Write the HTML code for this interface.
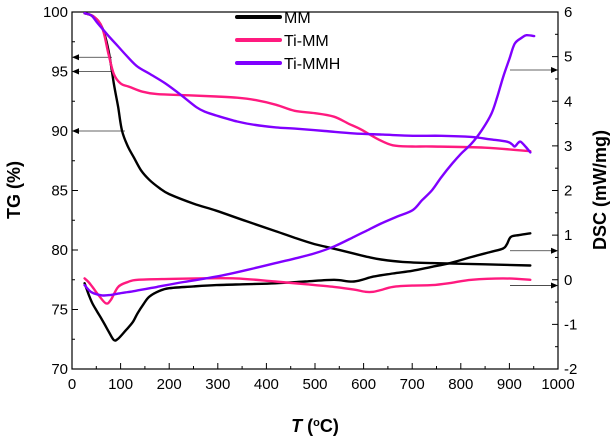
<!DOCTYPE html>
<html><head><meta charset="utf-8"><style>
body{margin:0;background:#fff}
svg{display:block;font-family:"Liberation Sans",Arial,sans-serif}
</style></head><body>
<svg id="chart" width="616" height="441"></svg>
<script>
const xTicks=[0,100,200,300,400,500,600,700,800,900,1000];
const tgTicks=[70,75,80,85,90,95,100];
const dscTicks=[-2,-1,0,1,2,3,4,5,6];
const seriesNames=["MM","Ti-MM","Ti-MMH"];
const mmT=[26,45,62,75,86,95,103,115,127,142,159,180,200,250,297,360,418,460,499,540,580,610,636,680,741,850,943];
const mmTG=[99.9,99.6,98.7,96.8,94,92,90,88.7,87.8,86.7,85.9,85.2,84.7,83.9,83.3,82.4,81.6,81,80.5,80.1,79.7,79.4,79.2,79,78.9,78.8,78.7];
const timmT=[26,45,62,75,86,100,119,145,175,240,297,340,378,420,458,500,539,570,596,630,660,700,741,850,943];
const timmTG=[99.9,99.6,98.7,96.5,94.8,94,93.7,93.3,93.1,93,92.9,92.8,92.6,92.2,91.7,91.5,91.2,90.6,90.1,89.3,88.8,88.7,88.7,88.6,88.3];
const timmhT=[26,40,54,75,95,115,135,160,192,225,256,275,297,340,378,420,458,520,580,640,701,760,822,860,895,905,911,918,923,933,943];
const timmhTG=[99.9,99.7,99,98,97.1,96.2,95.4,94.8,94,93,92,91.6,91.3,90.8,90.5,90.3,90.2,90,89.8,89.7,89.6,89.6,89.5,89.3,89.1,88.9,88.7,89,89.1,88.7,88.2];
const mmDT=[26,35,42,52,62,75,86,95,111,125,135,147,159,180,200,250,297,360,418,480,539,580,620,660,700,741,780,822,860,887,895,903,920,943];
const mmDSC=[-0.08,-0.35,-0.53,-0.72,-0.9,-1.15,-1.35,-1.32,-1.13,-0.95,-0.75,-0.55,-0.38,-0.25,-0.19,-0.15,-0.12,-0.1,-0.08,-0.04,0,-0.04,0.07,0.14,0.2,0.29,0.38,0.51,0.62,0.7,0.8,0.96,1.0,1.04];
const timmDT=[26,34,42,55,70,80,95,115,135,200,256,337,418,480,539,580,604,620,636,660,700,741,780,822,887,943];
const timmDSC=[0.03,-0.05,-0.16,-0.35,-0.53,-0.45,-0.16,-0.05,0,0.02,0.03,0.03,-0.04,-0.1,-0.16,-0.22,-0.27,-0.27,-0.23,-0.16,-0.13,-0.12,-0.07,0,0.03,0];
const timmhDT=[26,40,62,80,95,130,175,230,297,360,418,460,499,540,580,610,636,670,701,720,741,760,782,800,822,843,863,875,887,900,911,925,935,951];
const timmhDSC=[-0.12,-0.28,-0.35,-0.34,-0.31,-0.25,-0.16,-0.05,0.07,0.22,0.37,0.48,0.59,0.75,0.96,1.12,1.26,1.42,1.56,1.78,2.01,2.3,2.6,2.82,3.05,3.35,3.72,4.1,4.54,4.95,5.29,5.42,5.48,5.46];
const colors=["#000000","#ff1a7f","#8000ff"];

const L=72,R=558,T=12,B=369;
const xS=v=>L+(v-0)/1000*(R-L);
const yTG=v=>B-(v-70)/30*(B-T);
const yD=v=>B-(v+2)/8*(B-T);
const svg=document.getElementById('chart');
const NS='http://www.w3.org/2000/svg';
function mk(tag,attrs,parent){const e=document.createElementNS(NS,tag);for(const k in attrs)e.setAttribute(k,attrs[k]);(parent||svg).appendChild(e);return e;}

const frame=mk('rect',{x:L,y:T,width:R-L,height:B-T,fill:'none',stroke:'#000','stroke-width':1.2});



for(let v=0;v<=1000;v+=50){const x=xS(v);const maj=v%100===0;
 const t=mk('line',{x1:x,x2:x,y1:B,y2:B-(maj?6:3),stroke:'#000'});
 
 }
xTicks.forEach(v=>{const t=mk('text',{x:xS(v),y:B+20,'font-size':15,'text-anchor':'middle'});t.textContent=v;
 
 });
for(let v=70;v<=100;v+=2.5){const y=yTG(v);const maj=v%5===0;
 const t=mk('line',{x1:L,x2:L+(maj?6:3),y1:y,y2:y,stroke:'#000'});
 
 }
tgTicks.forEach(v=>{const t=mk('text',{x:L-4,y:yTG(v)+5,'font-size':15,'text-anchor':'end'});t.textContent=v;
 
 });
for(let v=-2;v<=6;v+=0.5){const y=yD(v);const maj=Number.isInteger(v);
 const t=mk('line',{x1:R,x2:R-(maj?6:3),y1:y,y2:y,stroke:'#000'});
 
 }
dscTicks.forEach(v=>{const t=mk('text',{x:R+6,y:yD(v)+5,'font-size':15,'text-anchor':'start'});t.textContent=v;
 
 });

const xt=mk('text',{x:315,y:432,'font-size':18,'font-weight':'bold','text-anchor':'middle'});
xt.innerHTML='<tspan font-style="italic">T</tspan> (<tspan baseline-shift="super" font-size="11">o</tspan>C)';


const yt=mk('text',{x:0,y:0,'font-size':18,'font-weight':'bold','text-anchor':'middle',transform:'translate(20,190) rotate(-90)'});
yt.textContent='TG (%)';


const yt2=mk('text',{x:0,y:0,'font-size':18,'font-weight':'bold','text-anchor':'middle',transform:'translate(606,190) rotate(-90)'});
yt2.textContent='DSC (mW/mg)';



function arrow(x1,x2,y,dir){const l=mk('line',{x1:x1,x2:x2,y1:y,y2:y,stroke:'#333','stroke-width':0.8});
 
 
 const tip=dir<0?x1:x2;const p=mk('path',{d:`M${tip} ${y} l${-dir*7} -3 l0 6z`,fill:'#000'});
 
 }
arrow(L,112,yTG(96.2),-1);arrow(L,112,yTG(95),-1);arrow(L,125,yTG(90),-1);
arrow(510,R,yD(4.7),1);arrow(510,R,yD(0.65),1);arrow(510,R,yD(-0.13),1);

function line(xs,ys,yf,color,name){
 const P=xs.map((v,i)=>[xS(v),yf(ys[i])]);
 let d='M'+P[0][0].toFixed(1)+' '+P[0][1].toFixed(1);
 for(let i=0;i<P.length-1;i++){const p0=P[i-1]||P[i],p1=P[i],p2=P[i+1],p3=P[i+2]||p2;
  const c1=[p1[0]+(p2[0]-p0[0])/6,p1[1]+(p2[1]-p0[1])/6],c2=[p2[0]-(p3[0]-p1[0])/6,p2[1]-(p3[1]-p1[1])/6];
  d+=` C${c1[0].toFixed(1)} ${c1[1].toFixed(1)} ${c2[0].toFixed(1)} ${c2[1].toFixed(1)} ${p2[0].toFixed(1)} ${p2[1].toFixed(1)}`;}
 const p=mk('path',{d:d,fill:'none',stroke:color,'stroke-width':2.4,'stroke-linejoin':'round','stroke-linecap':'round'});
 
 }
line(mmT,mmTG,yTG,colors[0],'mm-tg-line');
line(timmT,timmTG,yTG,colors[1],'ti-mm-tg-line');
line(timmhT,timmhTG,yTG,colors[2],'ti-mmh-tg-line');
line(mmDT,mmDSC,yD,colors[0],'mm-dsc-line');
line(timmDT,timmDSC,yD,colors[1],'ti-mm-dsc-line');
line(timmhDT,timmhDSC,yD,colors[2],'ti-mmh-dsc-line');

seriesNames.forEach((n,i)=>{const y=17+i*23;
 const l=mk('line',{x1:237,x2:280,y1:y,y2:y,stroke:colors[i],'stroke-width':4,'stroke-linecap':'round'});
 
 
 const t=mk('text',{x:284,y:y+6,'font-size':16});t.textContent=n;
 
 });
</script>
</body></html>
